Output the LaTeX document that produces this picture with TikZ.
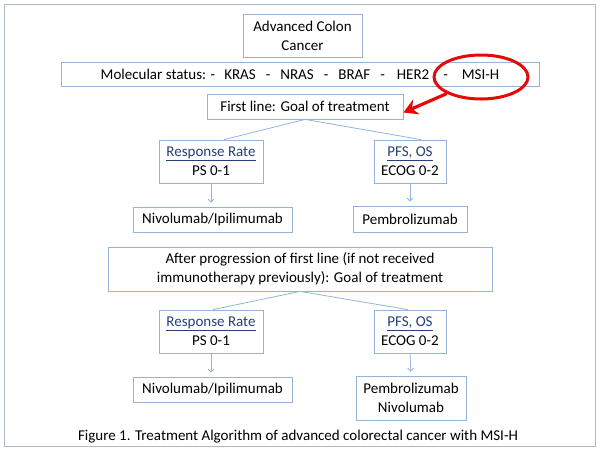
\documentclass[tikz,border=0pt]{standalone}
\usepackage{fontspec}
\setmainfont{Carlito}
\usepackage{xcolor}
\usetikzlibrary{arrows.meta,shapes.geometric}
\definecolor{boxblue}{RGB}{149,179,215}
\definecolor{linkblue}{RGB}{36,64,118}
\definecolor{framegray}{RGB}{175,185,200}
\definecolor{markred}{RGB}{228,10,10}
\newcommand{\goal}[1]{\textcolor{linkblue}{\underline{#1}}}

\begin{document}
\begin{tikzpicture}[x=1pt,y=-1pt,>={Straight Barb[length=3pt,width=6pt]},
  box/.style={draw=boxblue,line width=0.8pt,fill=white,align=center,inner sep=0pt,
    font=\fontsize{15}{19}\selectfont},
  link/.style={draw=boxblue,line width=0.8pt},
  down/.style={link,->,shorten >=4pt}]
  \useasboundingbox (0,0) rectangle (600,451);
  \draw[framegray,line width=0.8pt] (4,4) rectangle (595,446);
  \node[box,minimum width=119,minimum height=43] (acc) at (302.5,35.5) {Advanced Colon\\Cancer};
  \node[box,minimum width=478,minimum height=24] (mol) at (300,74)
    {Molecular status: -\hspace{9pt}KRAS\hspace{10pt}-\hspace{10pt}NRAS\hspace{10pt}-\hspace{10pt}BRAF\hspace{10pt}-\hspace{12pt}HER2\hspace{14pt}-\hspace{14pt}MSI-H};
  \node[box,minimum width=196,minimum height=25] (fl) at (305,106.5) {First line: Goal of treatment};
  \node[box,minimum width=104,minimum height=43] (rr1) at (211,161.5) {\goal{Response Rate}\\PS 0-1};
  \node[box,minimum width=72,minimum height=43] (pfs1) at (410,161.5) {\goal{PFS, OS}\\ECOG 0-2};
  \node[box,minimum width=159,minimum height=25] (niv1) at (212.5,219.5) {Nivolumab/Ipilimumab};
  \node[box,minimum width=114,minimum height=26] (pem1) at (410,219) {Pembrolizumab};
  \node[box,minimum width=384,minimum height=44] (aft) at (300,269)
    {After progression of first line (if not received\\immunotherapy previously): Goal of treatment};
  \node[box,minimum width=104,minimum height=43] (rr2) at (211,331.5) {\goal{Response Rate}\\PS 0-1};
  \node[box,minimum width=72,minimum height=43] (pfs2) at (410,331.5) {\goal{PFS, OS}\\ECOG 0-2};
  \node[box,minimum width=159,minimum height=25] (niv2) at (212.5,389.5) {Nivolumab/Ipilimumab};
  \node[box,minimum width=110,minimum height=44] (pem2) at (411,398) {Pembrolizumab\\Nivolumab};
  \node[font=\fontsize{15}{19}\selectfont] (cap) at (298,437)
    {Figure 1. Treatment Algorithm of advanced colorectal cancer with MSI-H};
  \draw[link] (fl.south) -- ([xshift=13pt]rr1.north);
  \draw[link] (fl.south) -- ([xshift=11pt]pfs1.north);
  \draw[link] (aft.south) -- ([xshift=2pt]rr2.north);
  \draw[link] (aft.south) -- ([xshift=-2pt]pfs2.north);
  \draw[down] (rr1.south) -- (rr1.south |- niv1.north);
  \draw[down] (pfs1.south) -- (pem1.north);
  \draw[down] (rr2.south) -- (rr2.south |- niv2.north);
  \draw[down] (pfs2.south) -- (pem2.north);
  \node[ellipse,draw=markred,line width=3pt,minimum width=94,minimum height=44] (msi) at (481,77) {};
  \draw[markred,line width=3.2pt,-{Stealth[length=14pt,width=16pt]}] (msi.south west) -- ([yshift=-6pt]fl.east);
\end{tikzpicture}
\end{document}
